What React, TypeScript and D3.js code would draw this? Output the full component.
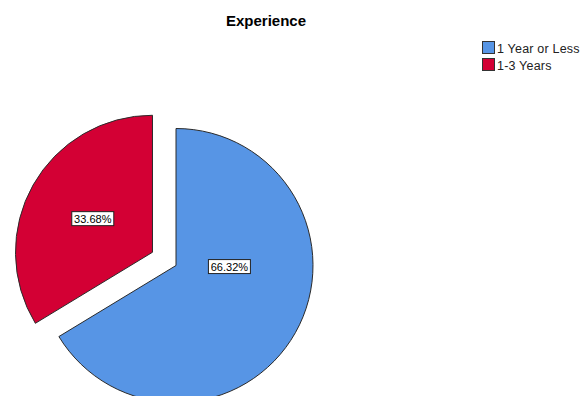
import React from "react";
import * as d3 from "d3";

const categories = ["1 Year or Less", "1-3 Years"];
const percents = [66.32, 33.68];
const colors = ["#5795E5", "#D30034"];
const exploded = [false, true];
const title = "Experience";

const W = 582;
const H = 396;

export default function App() {
  const cx = 176;
  const cy = 265.5;
  const r = 137;
  const explode = 27;

  const pie = d3
    .pie<number>()
    .sort(null)
    .value((d) => d);
  const arcs = pie(percents);
  const arcGen = d3.arc<d3.PieArcDatum<number>>().innerRadius(0).outerRadius(r);

  return (
    <svg
      width={W}
      height={H}
      style={{ position: "absolute", left: 0, top: 0, background: "#fff" }}
      fontFamily="Arial, 'Liberation Sans', sans-serif"
    >
      <text x={266} y={25.5} textAnchor="middle" fontWeight="bold" fontSize={15} fill="#000">
        {title}
      </text>
      {arcs.map((a, i) => {
        const mid = (a.startAngle + a.endAngle) / 2;
        const [ox, oy] = exploded[i] ? d3.pointRadial(mid, explode) : [0, 0];
        return (
          <g key={i} transform={`translate(${cx + ox},${cy + oy})`}>
            <path d={arcGen(a) || ""} fill={colors[i]} stroke="#2b2b2b" strokeWidth={1} />
          </g>
        );
      })}
      {arcs.map((a, i) => {
        const mid = (a.startAngle + a.endAngle) / 2;
        const [ox, oy] = exploded[i] ? d3.pointRadial(mid, explode) : [0, 0];
        const [lx, ly] = exploded[i]
          ? d3.pointRadial(mid, r * 0.5)
          : d3.pointRadial(Math.PI / 2 + 0.02, r * 0.39);
        const label = percents[i].toFixed(2) + "%";
        const bw = 42;
        const bh = 14;
        const x = cx + ox + lx;
        const y = cy + oy + ly;
        return (
          <g key={"l" + i}>
            <rect
              x={x - bw / 2}
              y={y - bh / 2}
              width={bw}
              height={bh}
              fill="#fff"
              stroke="#222"
              strokeWidth={1}
            />
            <text x={x} y={y + 4} textAnchor="middle" fontSize={11} fill="#000">
              {label}
            </text>
          </g>
        );
      })}
      {categories.map((c, i) => (
        <g key={"lg" + i} transform={`translate(482,${41 + i * 17})`}>
          <rect x={0.5} y={0.5} width={12} height={12} fill={colors[i]} stroke="#333" strokeWidth={1} />
          <text x={15} y={11.5} fontSize={12.5} fill="#222" letterSpacing={0.2}>
            {c}
          </text>
        </g>
      ))}
    </svg>
  );
}
